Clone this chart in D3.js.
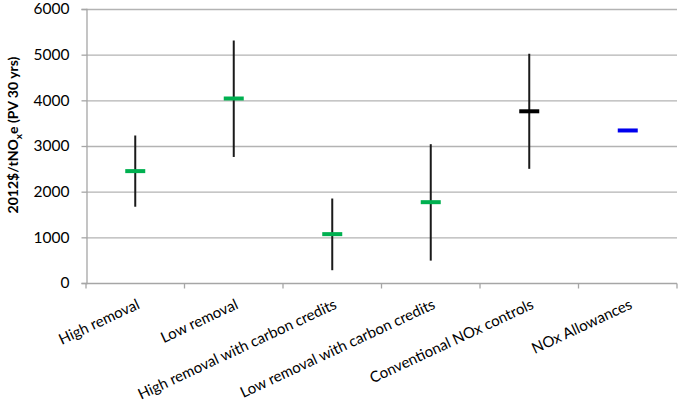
<!DOCTYPE html>
<html><head><meta charset="utf-8">
<script src="https://cdn.jsdelivr.net/npm/d3@7"></script>
<style>body{margin:0;background:#fff}svg{display:block}text{font-family:Lato,"Liberation Sans",sans-serif}</style>
</head><body>
<script>
const categories = ["High removal","Low removal","High removal with carbon credits","Low removal with carbon credits","Conventional NOx controls","NOx Allowances"];
const centers = [2450, 4040, 1070, 1770, 3760, 3340];
const highs   = [3230, 5310, 1850, 3040, 5020, null];
const lows    = [1670, 2760, 280, 490, 2500, null];
const markerColors = ["#00b050","#00b050","#00b050","#00b050","#000000","#0000ee"];
const yTicks = [0,1000,2000,3000,4000,5000,6000];

const W=680,H=408;
const svg=d3.select("body").append("svg").attr("width",W).attr("height",H);
const x=d3.scaleBand().domain(categories).range([86,677]);
const y=d3.scaleLinear().domain([0,6000]).range([283,9]);

// gridlines
svg.append("g").selectAll("line").data(yTicks.filter(d=>d>0)).join("line")
  .attr("x1",86).attr("x2",677).attr("y1",d=>y(d)+0.5).attr("y2",d=>y(d)+0.5)
  .attr("stroke","#b3b3b3").attr("stroke-width",1.3);

// y axis
const ya=svg.append("g").attr("transform","translate(86.5,0)")
  .call(d3.axisLeft(y).tickValues(yTicks).tickSize(5).tickPadding(12).tickFormat(d3.format("d")));
ya.select(".domain").attr("stroke","#a6a6a6").attr("stroke-width",1.3);
ya.selectAll(".tick line").attr("stroke","#a6a6a6").attr("stroke-width",1.3);
ya.selectAll("text").attr("font-size",15.5).attr("fill","#000").style("font-family","Lato");

// x axis
const xa=svg.append("g").attr("transform",`translate(0,${y(0)+0.5})`);
xa.append("line").attr("x1",86).attr("x2",677).attr("stroke","#a6a6a6").attr("stroke-width",1.3);
const bounds=categories.map(c=>x(c)).concat([x.range()[1]]);
xa.selectAll("line.tk").data(bounds).join("line").attr("class","tk")
  .attr("x1",d=>d).attr("x2",d=>d).attr("y1",0).attr("y2",5)
  .attr("stroke","#a6a6a6").attr("stroke-width",1.3);
xa.selectAll("text").data(categories).join("text")
  .attr("transform",c=>`translate(${x(c)+x.bandwidth()/2+1},${15}) rotate(-25)`)
  .attr("text-anchor","end").attr("dy","0.7em")
  .attr("font-size",15).attr("fill","#000").text(d=>d);

// error bars
const data=categories.map((c,i)=>({c,m:centers[i],h:highs[i],l:lows[i],col:markerColors[i]}));
svg.append("g").selectAll("line").data(data.filter(d=>d.h!=null)).join("line")
  .attr("x1",d=>x(d.c)+x.bandwidth()/2).attr("x2",d=>x(d.c)+x.bandwidth()/2)
  .attr("y1",d=>y(d.h)).attr("y2",d=>y(d.l))
  .attr("stroke","#1a1a1a").attr("stroke-width",2);
svg.append("g").selectAll("rect").data(data).join("rect")
  .attr("x",d=>x(d.c)+x.bandwidth()/2-10).attr("width",20)
  .attr("y",d=>y(d.m)-2).attr("height",4).attr("fill",d=>d.col);

// y title
const t=svg.append("text").attr("transform","translate(18,135) rotate(-90)")
  .attr("text-anchor","middle").attr("font-size",14).attr("font-weight","bold").attr("fill","#000");
t.append("tspan").text("2012$/tNO");
t.append("tspan").attr("font-size",10).attr("dy",4).text("x");
t.append("tspan").attr("dy",-4).text("e (PV 30 yrs)");
</script>
</body></html>
